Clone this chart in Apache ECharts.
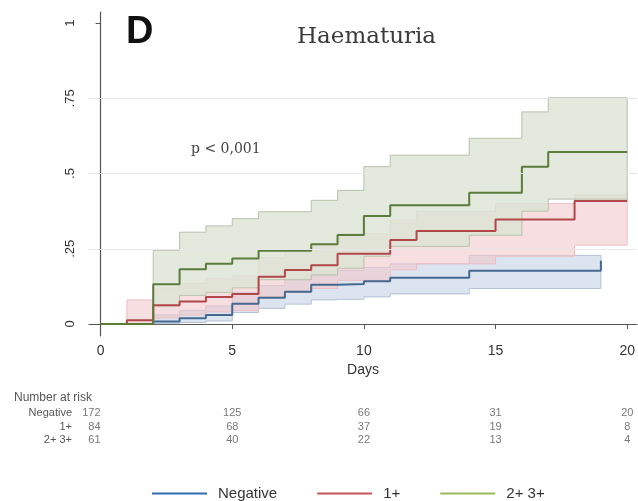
<!DOCTYPE html>
<html>
<head>
<meta charset="utf-8">
<script src="https://cdn.jsdelivr.net/npm/echarts@6/dist/echarts.min.js"></script>
<style>
  html, body { margin: 0; padding: 0; background: #fff; }
  #chart { width: 638px; height: 501px; }
</style>
</head>
<body>
<div id="chart"></div>
<script>
// step curves: value holds from day[i] until day[i+1]
var negDays = [0, 2, 3, 4, 5, 6, 7, 8, 9, 10, 11, 14, 19];
var negEst  = [0, 0.008, 0.019, 0.03, 0.067, 0.087, 0.107, 0.13, 0.133, 0.142, 0.154, 0.177, 0.21];
var negLow  = [0, 0.001, 0.005, 0.01, 0.038, 0.052, 0.066, 0.08, 0.082, 0.09, 0.1, 0.118, 0.118];
var negHigh = [0, 0.03, 0.045, 0.06, 0.105, 0.128, 0.15, 0.175, 0.178, 0.188, 0.2, 0.228, 0.26];

var oneDays = [0, 1, 2, 3, 4, 5, 6, 7, 8, 9, 11, 12, 15, 18, 20];
var oneEst  = [0, 0.012, 0.062, 0.075, 0.09, 0.1, 0.157, 0.179, 0.195, 0.233, 0.279, 0.309, 0.347, 0.409, 0.409];
var oneLow  = [0, 0, 0.02, 0.03, 0.04, 0.045, 0.09, 0.105, 0.118, 0.145, 0.18, 0.2, 0.225, 0.262, 0.262];
var oneHigh = [0, 0.08, 0.12, 0.135, 0.15, 0.16, 0.22, 0.245, 0.265, 0.3, 0.345, 0.375, 0.4, 0.43, 0.43];

var twoDays = [0, 2, 3, 4, 5, 6, 8, 9, 10, 11, 14, 16, 17, 20];
var twoEst  = [0, 0.132, 0.182, 0.2, 0.218, 0.243, 0.265, 0.296, 0.359, 0.395, 0.436, 0.523, 0.572, 0.572];
var twoLow  = [0, 0.06, 0.095, 0.105, 0.12, 0.147, 0.163, 0.185, 0.225, 0.258, 0.295, 0.375, 0.415, 0.415];
var twoHigh = [0, 0.245, 0.305, 0.326, 0.35, 0.373, 0.411, 0.444, 0.523, 0.561, 0.617, 0.705, 0.752, 0.752];

var xTicks = [0, 5, 10, 15, 20];
var yTicks = [0, 0.25, 0.5, 0.75, 1];
var yTickLabels = ['0', '.25', '.5', '.75', '1'];
var gridVals = [0.25, 0.5, 0.75];

// number at risk
var riskRows = ['Negative', '1+', '2+ 3+'];
var riskDays = [0, 5, 10, 15, 20];
var riskNeg = [172, 125, 66, 31, 20];
var riskOne = [84, 68, 37, 19, 8];
var riskTwo = [61, 40, 22, 13, 4];

var chart = echarts.init(document.getElementById('chart'), null, { renderer: 'canvas' });

function pairs(days, vals) {
  var out = [];
  for (var i = 0; i < days.length; i++) out.push([days[i], vals[i]]);
  return out;
}

// confidence band as one step polygon
function bandSeries(days, low, high, fill, stroke) {
  var start = 0;
  while (start < days.length && high[start] === low[start]) start++;
  return {
    type: 'custom',
    silent: true,
    z: 1,
    data: [[days[start], low[start]]],
    renderItem: function (params, api) {
      var pts = [];
      for (var i = start; i < days.length - 1; i++) {
        pts.push(api.coord([days[i], high[i]]));
        pts.push(api.coord([days[i + 1], high[i]]));
      }
      for (var j = days.length - 2; j >= start; j--) {
        pts.push(api.coord([days[j + 1], low[j]]));
        pts.push(api.coord([days[j], low[j]]));
      }
      return {
        type: 'polygon',
        shape: { points: pts },
        style: { fill: fill, stroke: stroke, lineWidth: 1 }
      };
    }
  };
}

function lineSeries(name, days, vals, color) {
  return {
    name: name,
    type: 'line',
    step: 'end',
    z: 3,
    symbol: 'none',
    silent: true,
    data: pairs(days, vals),
    lineStyle: { color: color, width: 2 },
    itemStyle: { color: color }
  };
}

function riskSeries(row, vals) {
  var data = [];
  for (var i = 0; i < riskDays.length; i++) {
    data.push({
      value: [riskDays[i], row, vals[i]],
      label: { align: i === 0 ? 'right' : 'center' }
    });
  }
  return {
    type: 'scatter',
    xAxisIndex: 1,
    yAxisIndex: 1,
    symbolSize: 1,
    silent: true,
    itemStyle: { color: 'rgba(0,0,0,0)' },
    label: {
      show: true,
      position: 'inside',
      fontSize: 11,
      color: '#555',
      fontFamily: 'Liberation Sans',
      formatter: function (p) { return p.value[2]; }
    },
    data: data
  };
}

var option = {
  animation: false,
  backgroundColor: '#fff',
  textStyle: { fontFamily: 'Liberation Sans' },
  grid: [
    { left: 89, right: 1, top: 12, bottom: 165 },
    { left: 89, right: 1, top: 406, height: 41 }
  ],
  xAxis: [{
    type: 'value',
    min: -0.44,
    max: 20.37,
    name: 'Days',
    nameLocation: 'middle',
    nameGap: 26,
    nameTextStyle: { fontSize: 14, color: '#333' },
    axisLine: { lineStyle: { color: '#555', width: 1.2 } },
    axisTick: { show: true, length: 5, customValues: xTicks, lineStyle: { color: '#555' } },
    axisLabel: { customValues: xTicks, fontSize: 14, color: '#333', margin: 8 },
    splitLine: { show: false }
  }, {
    type: 'value',
    gridIndex: 1,
    min: -0.44,
    max: 20.37,
    show: false
  }],
  yAxis: [{
    type: 'value',
    min: -0.04,
    max: 1.037,
    axisLine: { show: true, lineStyle: { color: '#555', width: 1.2 } },
    axisTick: { show: true, length: 5, customValues: yTicks, lineStyle: { color: '#555' } },
    axisLabel: {
      customValues: yTicks,
      rotate: 90,
      fontSize: 13,
      color: '#333',
      margin: 12,
      formatter: function (v) {
        var k = yTicks.indexOf(v);
        return k >= 0 ? yTickLabels[k] : '';
      }
    },
    splitLine: { show: false }
  }, {
    type: 'category',
    gridIndex: 1,
    inverse: true,
    data: riskRows,
    axisLine: { show: false },
    axisTick: { show: false },
    axisLabel: { interval: 0, fontSize: 11, color: '#555', margin: 17 }
  }],
  legend: {
    left: 147,
    top: 481,
    icon: 'rect',
    itemWidth: 55,
    itemHeight: 2,
    itemGap: 40,
    textStyle: { fontSize: 15, color: '#333', padding: [0, 0, 0, 6] },
    data: [
      { name: 'Negative', itemStyle: { color: '#2f6db2' } },
      { name: '1+', itemStyle: { color: '#c55357' } },
      { name: '2+ 3+', itemStyle: { color: '#9bbb59' } }
    ]
  },
  graphic: [
    { type: 'text', left: 126, top: 14, style: { text: 'D', font: 'bold 38px "Liberation Sans"', fill: '#111' } },
    { type: 'text', left: 297, top: 26, style: { text: 'Haematuria', font: '23px "DejaVu Serif"', fill: '#3a3a3a' } },
    { type: 'text', left: 191, top: 142, style: { text: 'p < 0,001', font: '14px "DejaVu Serif"', fill: '#444' } },
    { type: 'text', left: 14, top: 392, style: { text: 'Number at risk', font: '12px "Liberation Sans"', fill: '#555' } }
  ],
  series: [
    {
      // gridlines
      type: 'line',
      z: 0,
      silent: true,
      symbol: 'none',
      data: [[0, 0]],
      lineStyle: { opacity: 0 },
      markLine: {
        silent: true,
        symbol: 'none',
        label: { show: false },
        lineStyle: { color: '#e6e6e6', width: 1, type: 'solid' },
        data: gridVals.map(function (v) { return { yAxis: v }; })
      }
    },
    bandSeries(negDays, negLow, negHigh, 'rgba(197,210,230,0.6)', 'rgb(178,192,214)'),
    bandSeries(oneDays, oneLow, oneHigh, 'rgba(242,200,204,0.6)', 'rgb(236,190,194)'),
    bandSeries(twoDays, twoLow, twoHigh, 'rgba(220,228,212,0.8)', 'rgb(182,194,170)'),
    lineSeries('Negative', negDays, negEst, '#44688f'),
    lineSeries('1+', oneDays, oneEst, '#b2474a'),
    lineSeries('2+ 3+', twoDays, twoEst, '#5c7c3c'),
    riskSeries(0, riskNeg),
    riskSeries(1, riskOne),
    riskSeries(2, riskTwo)
  ]
};

chart.setOption(option);
</script>
</body>
</html>
